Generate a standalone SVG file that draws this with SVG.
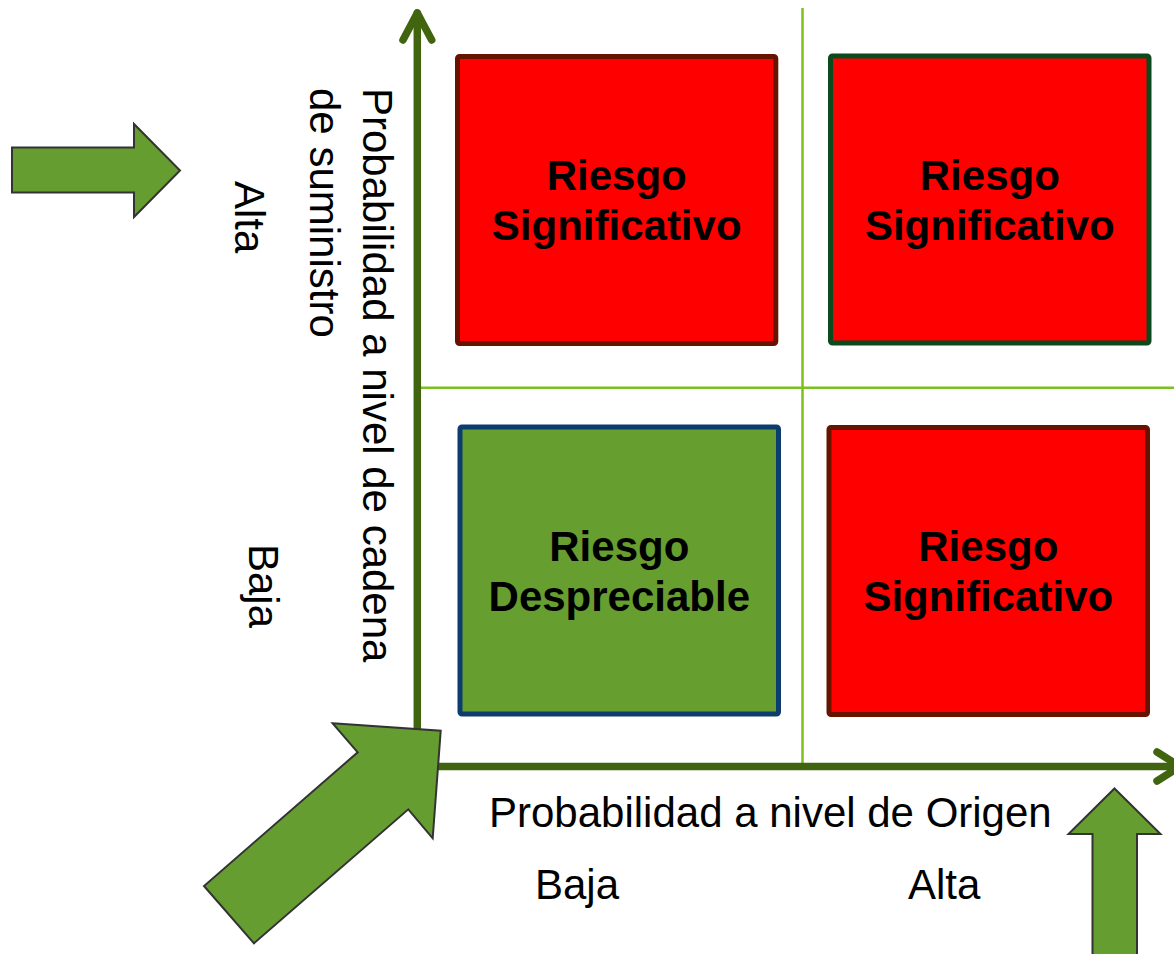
<svg xmlns="http://www.w3.org/2000/svg" width="1174" height="954" viewBox="0 0 1174 954">
<style>
.grid{stroke:#7cbf1e;stroke-width:2.5;fill:none}
.axis{stroke:#41650f;stroke-width:7.5;fill:none;stroke-linecap:round;stroke-linejoin:round}
.box{stroke-width:5}
.red{fill:#ff0000}
.green{fill:#669e2f}
.blk{fill:#669d30;stroke:#333333;stroke-width:2;stroke-linejoin:miter}
.t{font-family:"Liberation Sans",Arial,sans-serif;font-size:42px;fill:#000}
.b{font-weight:bold;text-anchor:middle}
</style>
<rect width="1174" height="954" fill="#ffffff"/>
<g id="connectors">
<line class="grid" x1="802.5" y1="8" x2="802.5" y2="767"/>
<line class="grid" x1="418" y1="387.8" x2="1174" y2="387.8"/>
<polyline class="axis" points="417.3,766.5 417.3,13"/>
<polyline class="axis" points="403,40 417.3,13 431.7,40"/>
<polyline class="axis" points="417.3,766.5 1178,766.5"/>
<polyline class="axis" points="1157,752 1180,766.5 1157,781"/>
</g>
<g id="box-tl">
<rect class="box red" x="457.5" y="56.5" width="318.3" height="287" rx="2" stroke="#661400"/>
<text class="t b" x="616.7" y="190">Riesgo</text>
<text class="t b" x="616.7" y="240">Significativo</text>
</g>
<g id="box-tr">
<rect class="box red" x="830.5" y="56" width="318.5" height="287" rx="2" stroke="#0b4a1e"/>
<text class="t b" x="989.8" y="190">Riesgo</text>
<text class="t b" x="989.8" y="240">Significativo</text>
</g>
<g id="box-bl">
<rect class="box green" x="460" y="427" width="318.5" height="287" rx="2" stroke="#0d3c6e"/>
<text class="t b" x="619.3" y="561">Riesgo</text>
<text class="t b" x="619.3" y="611">Despreciable</text>
</g>
<g id="box-br">
<rect class="box red" x="829" y="427.5" width="318.5" height="287" rx="2" stroke="#661400"/>
<text class="t b" x="988.3" y="561">Riesgo</text>
<text class="t b" x="988.3" y="611">Significativo</text>
</g>
<g id="y-label">
<text class="t" transform="translate(363,88) rotate(90)">Probabilidad a nivel de cadena</text>
<text class="t" transform="translate(310,88) rotate(90)">de suministro</text>
</g>
<g id="y-alta"><text class="t" transform="translate(235,181) rotate(90)">Alta</text></g>
<g id="y-baja"><text class="t" transform="translate(249,544) rotate(90)">Baja</text></g>
<g id="x-label"><text class="t" x="489" y="827">Probabilidad a nivel de Origen</text></g>
<g id="x-baja"><text class="t" x="535" y="899">Baja</text></g>
<g id="x-alta"><text class="t" x="908" y="899">Alta</text></g>
<g id="arrow-left"><polygon class="blk" points="12,147.5 134,147.5 134,124 180,170.5 134,217 134,192.5 12,192.5"/></g>
<g id="arrow-diag"><polygon class="blk" points="332.7,723.3 440.7,730.7 432.7,838.3 408.3,809.3 254,943.3 204,886 357.7,752.3"/></g>
<g id="arrow-up"><polygon class="blk" points="1114.5,788.5 1160.5,834 1137,834 1137,960 1092.5,960 1092.5,834 1068.5,834"/></g>
</svg>
